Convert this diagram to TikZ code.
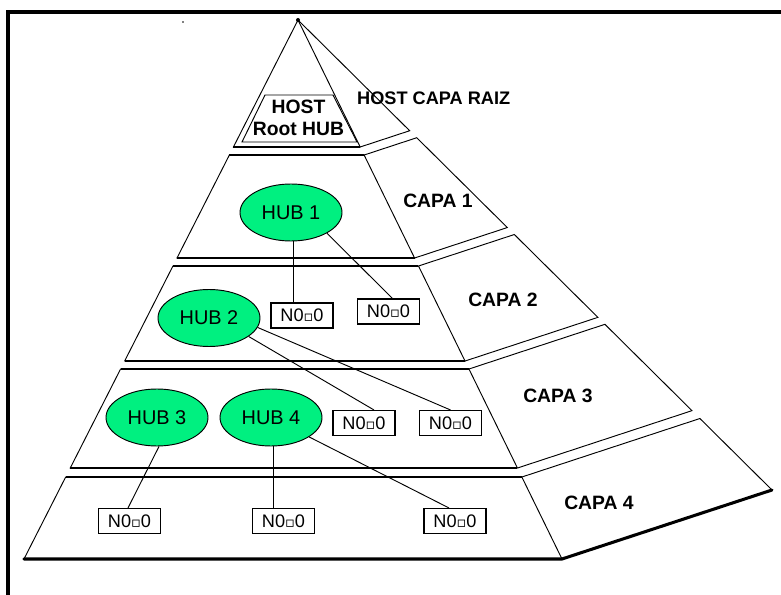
\documentclass[tikz,border=0pt]{standalone}
\usepackage{fontspec}
\setmainfont{Liberation Sans}
\newfontfamily\symfont{DejaVu Sans}
\usetikzlibrary{calc,shapes.geometric}
\definecolor{hubgreen}{RGB}{0,240,128}
\newcommand\nodotext{N0{\symfont\scalebox{0.8}{▫}}0}
\begin{document}
\begin{tikzpicture}[x=0.03cm,y=-0.03cm,
  edge/.style={line width=0.8pt,line join=miter},
  rim/.style={line width=1.3pt},
  base/.style={line width=2.6pt,line cap=round},
  layerlabel/.style={font=\bfseries\fontsize{16.5}{18}\selectfont,inner sep=0pt},
  hub/.style={ellipse,draw,line width=0.8pt,fill=hubgreen,minimum width=3.06cm,minimum height=1.71cm,inner sep=0pt,font=\fontsize{17}{19}\selectfont},
  nodo/.style={rectangle,draw,line width=0.9pt,minimum width=1.86cm,minimum height=0.75cm,inner sep=0pt,font=\fontsize{15.5}{17}\selectfont},
  link/.style={line width=0.8pt}]
\useasboundingbox (0,0) rectangle (781,595);
\fill[white] (0,0) rectangle (781,595);

% outer frame (open on the right and at the bottom)
\draw[line width=2.6pt] (8,595) -- (8,12) -- (781,12);
\fill (183,22) circle (0.9);

% pyramid corners
\coordinate (A)  at (298,20);
\coordinate (FL) at (24,559);
\coordinate (FR) at (562,559);
\coordinate (BR) at (772,490);
\fill (A) circle (2);

% top section (root)
\draw[edge] (A) -- ($(A)!0.2356!(FL)$) -- ($(A)!0.2356!(FR)$) -- cycle;
\draw[edge] ($(A)!0.2356!(FR)$) -- ($(A)!0.2356!(BR)$) -- (A);
\draw[rim] ($(A)!0.2356!(FL)$) -- ($(A)!0.2356!(FR)$);

% the four layers, each a frustum of the pyramid
\foreach \ta/\tb in {0.2505/0.4416, 0.4564/0.6327, 0.6475/0.8312, 0.8479/1}{
  \draw[edge] ($(A)!\ta!(FL)$) -- ($(A)!\ta!(FR)$) -- ($(A)!\tb!(FR)$) -- ($(A)!\tb!(FL)$) -- cycle;
  \draw[edge] ($(A)!\ta!(FR)$) -- ($(A)!\ta!(BR)$) -- ($(A)!\tb!(BR)$) -- ($(A)!\tb!(FR)$);
  \draw[rim] ($(A)!\ta!(FL)$) -- ($(A)!\ta!(FR)$);
  \draw[rim] ($(A)!\tb!(FL)$) -- ($(A)!\tb!(FR)$);
}
\draw[base] (FL) -- (FR) -- (BR);

% root hub box
\draw[edge] (265,95) -- (333,95) -- (357,142) -- (242,142) -- cycle;
\node[align=center,inner sep=0pt,font=\bfseries\fontsize{16.5}{19}\selectfont] (roothub) at (298.5,118) {HOST\\Root HUB};

% layer labels
\node[layerlabel,anchor=west] (lraiz) at (357,98) {\fontsize{15.5}{18}\selectfont HOST CAPA RAIZ};
\node[layerlabel] (lc1) at (438,201) {CAPA 1};
\node[layerlabel] (lc2) at (503,300) {CAPA 2};
\node[layerlabel] (lc3) at (558,396) {CAPA 3};
\node[layerlabel] (lc4) at (599,503) {CAPA 4};

% hubs
\node[hub] (hub1) at (291,212.5) {HUB 1};
\node[hub] (hub2) at (209,318) {HUB 2};
\node[hub] (hub3) at (157,417.5) {HUB 3};
\node[hub] (hub4) at (271,417.5) {HUB 4};

% devices
\node[nodo] (n1) at (302,315.5) {\nodotext};
\node[nodo] (n2) at (388.5,311.5) {\nodotext};
\node[nodo] (n3) at (364,423) {\nodotext};
\node[nodo] (n4) at (450.5,423) {\nodotext};
\node[nodo] (n5) at (129.5,521) {\nodotext};
\node[nodo] (n6) at (283.5,521) {\nodotext};
\node[nodo] (n7) at (455,521) {\nodotext};

% connection end points
\coordinate (h1s) at ($(hub1.south)+(2,0)$);
\coordinate (h4s) at ($(hub4.south)+(2,0)$);

% connections
\draw[link] (h1s) -- (h1s |- n1.north);
\draw[link] (hub1.-30) -- ($(n2.north)+(4,0)$);
\draw[link] (hub2.-25) -- ($(n3.north)+(10,0)$);
\draw[link] (hub2.-11) -- (n4.north);
\draw[link] (hub3.-86) -- ($(n5.north)+(-1.5,0)$);
\draw[link] (h4s) -- (h4s |- n6.north);
\draw[link] (hub4.-27) -- ($(n7.north)+(-6,0)$);
\end{tikzpicture}
\end{document}
